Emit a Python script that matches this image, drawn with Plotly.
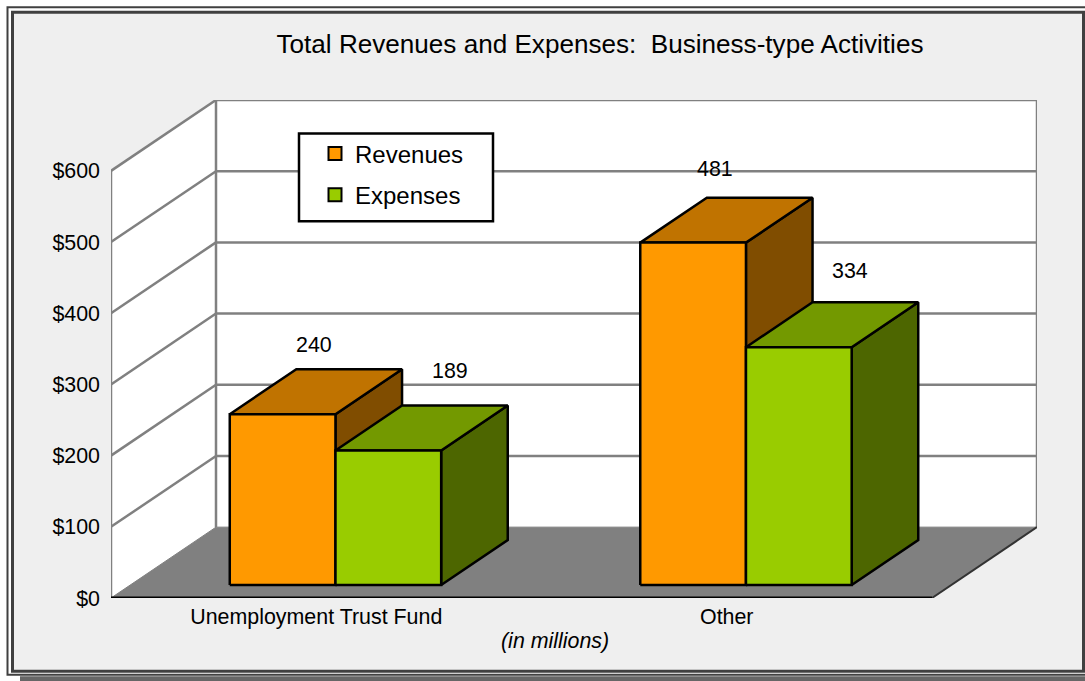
import plotly.graph_objects as go

categories = ["Unemployment Trust Fund", "Other"]
series_names = ["Revenues", "Expenses"]
revenues = [240, 481]
expenses = [189, 334]
y_ticks = [0, 100, 200, 300, 400, 500, 600]
y_tick_labels = ["$0", "$100", "$200", "$300", "$400", "$500", "$600"]
title_text = "Total Revenues and Expenses:  Business-type Activities"
note_text = "<i>(in millions)</i>"

W, H = 1085, 681
L, R, T, B = 111, 1037, 99.5, 598.5
PX_PER_CAT = 410.5
PX_PER_USD = 428 / 600
DX = 105 / PX_PER_CAT
DY = 71 / PX_PER_USD
XMAX = (R - L) / PX_PER_CAT
YMAX = (B - T) / PX_PER_USD
N = len(categories)
BAR_W = 0.2575
D0, D1 = 0.183, 0.817
FONT = "Liberation Sans, Arial, sans-serif"
BLACK = "#000000"
GRID = "#808080"
TXT = 21.4

STYLES = {
    "Revenues": dict(front="#FF9900", top="#C07300", side="#804D00"),
    "Expenses": dict(front="#99CC00", top="#739900", side="#4D6600"),
}
LABEL_SHIFT = {
    ("Revenues", 0): (-2, 47), ("Expenses", 0): (28, 57),
    ("Revenues", 1): (-11, 51), ("Expenses", 1): (18, 54),
}

fig = go.Figure()


def proj(x, y, d):
    return x + d * DX, y + d * DY


def poly(pts, fill, line=BLACK, width=2.5):
    xs, ys = zip(*pts)
    fig.add_trace(go.Scatter(
        x=list(xs) + [xs[0]], y=list(ys) + [ys[0]], mode="lines", fill="toself",
        fillcolor=fill, line=dict(color=line, width=width), hoverinfo="skip",
        showlegend=False, cliponaxis=False))


def seg(p, q, color=GRID, width=2.5):
    fig.add_trace(go.Scatter(
        x=[p[0], q[0]], y=[p[1], q[1]], mode="lines",
        line=dict(color=color, width=width), hoverinfo="skip",
        showlegend=False, cliponaxis=False))


top_v = y_ticks[-1]
# walls
poly([proj(0, 0, 1), proj(N, 0, 1), proj(N, top_v, 1), proj(0, top_v, 1)], "#FFFFFF", "#FFFFFF", 0)
poly([proj(0, 0, 0), proj(0, 0, 1), proj(0, top_v, 1), proj(0, top_v, 0)], "#FFFFFF", "#FFFFFF", 0)
for v in y_ticks[1:]:
    seg(proj(0, v, 0), proj(0, v, 1))
    seg(proj(0, v, 1), proj(N, v, 1))
seg(proj(0, 0, 0), proj(0, top_v, 0))
seg(proj(0, 0, 1), proj(0, top_v, 1))
seg(proj(N, 0, 1), proj(N, top_v, 1))
# floor
poly([proj(0, 0, 0), proj(0, 0, 1), proj(N, 0, 1), proj(N, 0, 0)], "#808080", "#808080", 1)
seg(proj(N, 0, 0), proj(N, 0, 1), "#333333", 2)
seg(proj(0, 0, 0), proj(N, 0, 0), BLACK, 3)


def bar(x0, x1, v, st):
    poly([proj(x1, 0, D0), proj(x1, 0, D1), proj(x1, v, D1), proj(x1, v, D0)], st["side"])
    poly([proj(x0, v, D0), proj(x1, v, D0), proj(x1, v, D1), proj(x0, v, D1)], st["top"])
    poly([proj(x0, 0, D0), proj(x1, 0, D0), proj(x1, v, D0), proj(x0, v, D0)], st["front"])


for i in range(N):
    c = i + 0.5
    bar(c - BAR_W, c, revenues[i], STYLES["Revenues"])
    bar(c, c + BAR_W, expenses[i], STYLES["Expenses"])

annotations = []
for name, vals, off in (("Revenues", revenues, -BAR_W / 2), ("Expenses", expenses, BAR_W / 2)):
    for i, v in enumerate(vals):
        ax, ay = proj(i + 0.5 + off, v, 0.5)
        sx, sy = LABEL_SHIFT[(name, i)]
        annotations.append(dict(x=ax, y=ay, text=str(v), showarrow=False, xshift=sx, yshift=sy,
                                font=dict(family=FONT, size=TXT, color=BLACK)))
annotations.append(dict(xref="paper", yref="paper", x=(555 - L) / (R - L), y=(B - 642) / (B - T),
                        xanchor="center", yanchor="middle",
                        text=note_text, showarrow=False,
                        font=dict(family=FONT, size=TXT, color=BLACK)))

for name in series_names:
    fig.add_trace(go.Scatter(
        x=[None], y=[None], mode="markers", name=name, legendgroup=name,
        marker=dict(symbol="square", size=13, color=STYLES[name]["front"],
                    line=dict(color=BLACK, width=2))))


def px(x):
    return (x - L) / (R - L)


def py(y):
    return (B - y) / (B - T)


def rect(x0, y0, x1, y1, line=None, width=0, fill=None, layer="below"):
    return dict(type="rect", layer=layer, xref="paper", yref="paper",
                x0=px(x0), x1=px(x1), y0=py(y0), y1=py(y1),
                fillcolor=fill or "rgba(0,0,0,0)",
                line=dict(color=line or "rgba(0,0,0,0)", width=width))


shapes = [
    rect(7.5, 6.5, 1100, 675.5, "#404040", 2, "#FFFFFF"),
    rect(12.5, 11.5, 1083.5, 672, "#404040", 3, "#EFEFEF"),
    rect(20, 677, 1100, 690, None, 0, "#666666"),
    rect(299, 133, 493, 221, BLACK, 2.5, "#FFFFFF", layer="above"),
]

fig.update_layout(
    width=W, height=H, autosize=False,
    margin=dict(l=L, r=W - R, t=T, b=H - B, pad=0),
    paper_bgcolor="#FFFFFF", plot_bgcolor="rgba(0,0,0,0)",
    title=dict(text=title_text, xref="paper", x=px(600), xanchor="center",
               yref="container", y=1 - 44 / H, yanchor="middle",
               font=dict(family=FONT, size=26.1, color=BLACK)),
    xaxis=dict(range=[0, XMAX], tickmode="array",
               tickvals=[i + 0.5 for i in range(N)], ticktext=categories,
               showgrid=False, zeroline=False, showline=False, ticks="",
               ticklabelstandoff=4,
               tickfont=dict(family=FONT, size=TXT, color=BLACK), fixedrange=True),
    yaxis=dict(range=[0, YMAX], tickmode="array", tickvals=y_ticks, ticktext=y_tick_labels,
               showgrid=False, zeroline=False, showline=False, ticks="",
               ticklabelstandoff=10,
               tickfont=dict(family=FONT, size=TXT, color=BLACK), fixedrange=True),
    legend=dict(x=px(299), y=py(131), xanchor="left", yanchor="top",
                bgcolor="rgba(0,0,0,0)", borderwidth=0,
                traceorder="grouped", tracegroupgap=7, itemwidth=30, indentation=16,
                entrywidth=145, entrywidthmode="pixels",
                font=dict(family=FONT, size=24, color=BLACK)),
    shapes=shapes, annotations=annotations, showlegend=True,
)

fig.write_html("out.html", config={"displayModeBar": False},
               post_script="document.body.style.margin='0';document.documentElement.style.overflow='hidden';")
